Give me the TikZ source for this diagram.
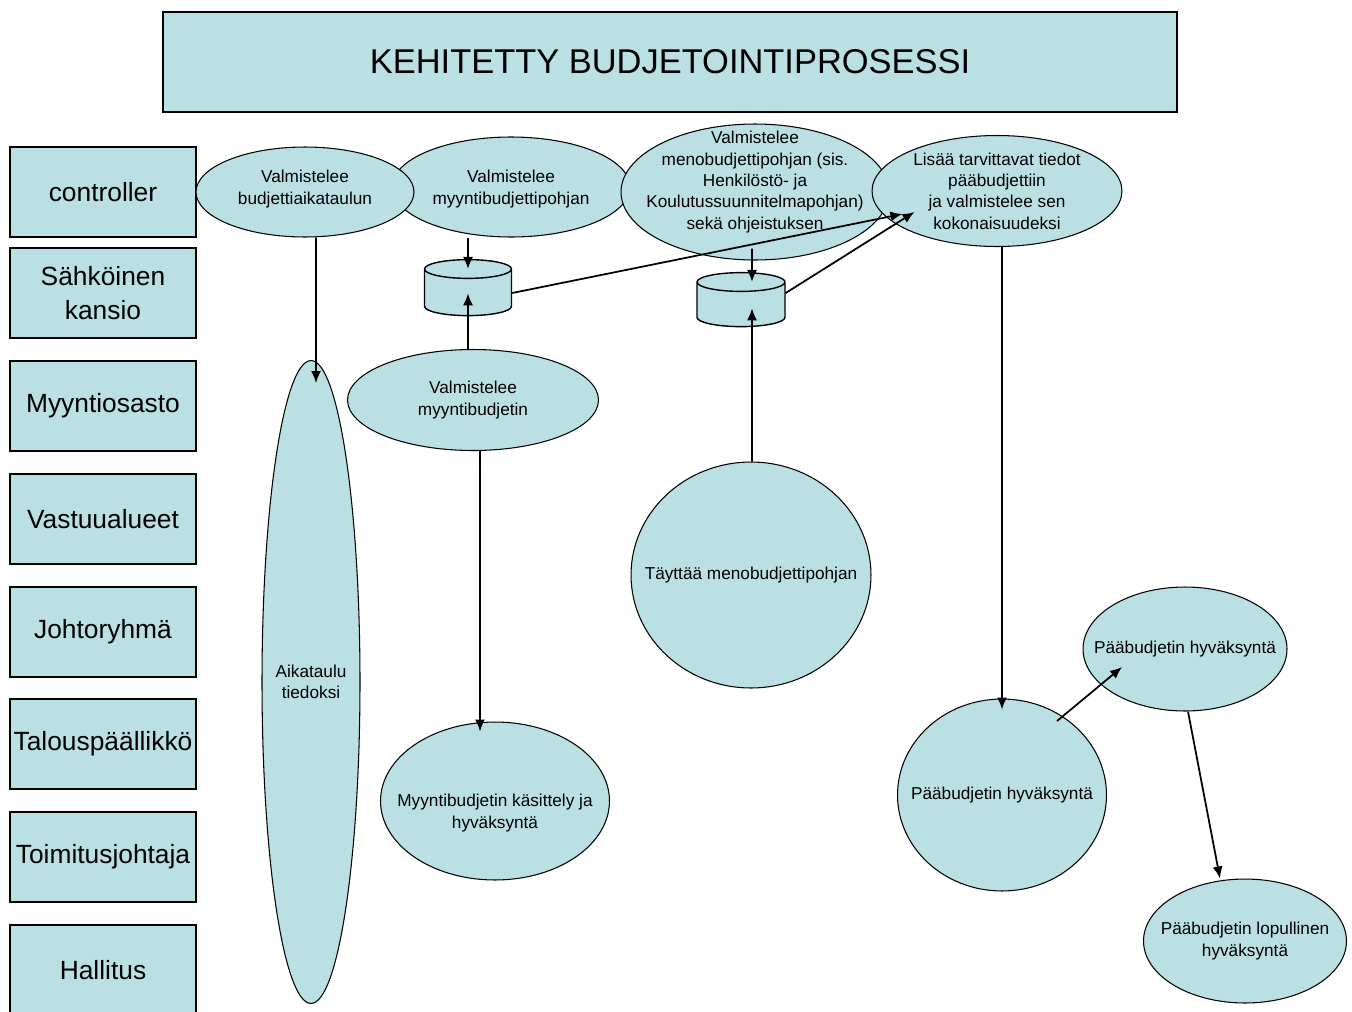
\documentclass[tikz,border=0pt]{standalone}
\usepackage{fontspec}
\setmainfont{Liberation Sans}
\usetikzlibrary{shapes.geometric, arrows.meta}
\definecolor{vaalea}{RGB}{186,224,227}
\tikzset{>={Latex[length=2.4mm, width=2mm]}}

\begin{document}
\begin{tikzpicture}[x=0.02cm, y=-0.02cm,
    lane/.style={draw, fill=vaalea, line width=0.8pt, minimum width=3.72cm, minimum height=1.8cm, inner sep=0pt, align=center, font=\fontsize{15}{19.3}\selectfont},
    vaihe/.style={ellipse, draw, fill=vaalea, line width=0.6pt, inner sep=0pt},
    vteksti/.style={align=center, font=\fontsize{9.8}{12.2}\selectfont},
    kansio/.style={cylinder, shape border rotate=90, draw, fill=vaalea, line width=0.8pt, aspect=1.6},
    nuoli/.style={->, line width=1pt}]
    \useasboundingbox (0,0) rectangle (1352,1011);
    \node[draw, fill=vaalea, line width=0.8pt, minimum width=20.28cm, minimum height=2cm, font=\fontsize{19.6}{24}\selectfont] (otsikko) at (670,62) {KEHITETTY BUDJETOINTIPROSESSI};
    \foreach \y/\t [count=\i] in {192/controller, 293/{Sähköinen\\kansio}, 406/Myyntiosasto, 519/Vastuualueet, 632/Johtoryhmä, 744/Talouspäällikkö, 857/Toimitusjohtaja, 970/Hallitus}
        \node[lane] (l\i) at (103,\y) {\t};
    \node[vaihe, minimum width=4.76cm, minimum height=2cm, label={[vteksti, yshift=-0.04cm]center:Valmistelee\\myyntibudjettipohjan}] (mvp) at (511,187) {};
    \node[vaihe, minimum width=4.36cm, minimum height=1.8cm, label={[vteksti, yshift=0.06cm]center:Valmistelee\\budjettiaikataulun}] (bva) at (305,192) {};
    \node[vaihe, minimum width=5.36cm, minimum height=2.72cm, label={[vteksti, yshift=0.2cm]center:Valmistelee\\menobudjettipohjan (sis.\\Henkilöstö- ja\\Koulutussuunnitelmapohjan)\\sekä ohjeistuksen}] (mnp) at (755,192) {};
    \node[vaihe, minimum width=5cm, minimum height=2.22cm, label={[vteksti]center:Lisää tarvittavat tiedot\\pääbudjettiin\\ja valmistelee sen\\kokonaisuudeksi}] (pkok) at (997,191) {};
    \node[kansio, minimum width=1.74cm, minimum height=1.12cm] (k1) at (468,295) {};
    \node[kansio, minimum width=1.76cm, minimum height=1.08cm] (k2) at (741,307) {};
    \node[vaihe, minimum width=1.96cm, minimum height=12.86cm, label={[vteksti]center:Aikataulu\\tiedoksi}] (ai) at (311,682) {};
    \node[vaihe, minimum width=5.02cm, minimum height=2.02cm, label={[vteksti]center:Valmistelee\\myyntibudjetin}] (vmb) at (473,400) {};
    \node[vaihe, minimum width=4.8cm, minimum height=4.52cm, label={[vteksti]center:Täyttää menobudjettipohjan}] (tmp) at (751,575) {};
    \node[vaihe, minimum width=4.58cm, minimum height=3.16cm, label={[vteksti, yshift=-0.24cm]center:Myyntibudjetin käsittely ja\\hyväksyntä}] (mkh) at (495,801) {};
    \node[vaihe, minimum width=4.18cm, minimum height=3.84cm, label={[vteksti]center:Pääbudjetin hyväksyntä}] (ph1) at (1002,795) {};
    \node[vaihe, minimum width=4.08cm, minimum height=2.48cm, label={[vteksti]center:Pääbudjetin hyväksyntä}] (ph2) at (1185,649) {};
    \node[vaihe, minimum width=4.06cm, minimum height=2.48cm, label={[vteksti]center:Pääbudjetin lopullinen\\hyväksyntä}] (plh) at (1245,941) {};
    \draw[nuoli] ([xshift=0.22cm]bva.south) -- ([xshift=0.1cm, yshift=-0.46cm]ai.north);
    \draw[nuoli] (k1.north |- mvp.south) -- ([yshift=-0.2cm]k1.north);
    \draw[nuoli] (k1 |- vmb.north) -- ([yshift=0.46cm]k1.south);
    \draw[nuoli] ([yshift=0.04cm]k1.east) -- ([xshift=0.62cm, yshift=-0.46cm]pkok.west);
    \draw[nuoli] ([xshift=-0.06cm, yshift=0.24cm]mnp.south) -- ([xshift=0.22cm, yshift=-0.2cm]k2.north);
    \draw[nuoli] ([xshift=0.02cm]tmp.north) -- ([xshift=0.22cm, yshift=0.38cm]k2.south);
    \draw[nuoli] ([yshift=0.28cm]k2.east) -- ([xshift=0.86cm, yshift=-0.42cm]pkok.west);
    \draw[nuoli] ([xshift=0.1cm]pkok.south) -- ([yshift=-0.22cm]ph1.north);
    \draw[nuoli] ([xshift=1.1cm, yshift=1.48cm]ph1.center) -- ([xshift=-1.26cm, yshift=-0.36cm]ph2.center);
    \draw[nuoli] ([xshift=0.06cm]ph2.south) -- ([xshift=-0.5cm]plh.north);
    \draw[nuoli] ([xshift=0.14cm]vmb.south) -- ([xshift=-0.3cm, yshift=-0.2cm]mkh.north);
\end{tikzpicture}
\end{document}
